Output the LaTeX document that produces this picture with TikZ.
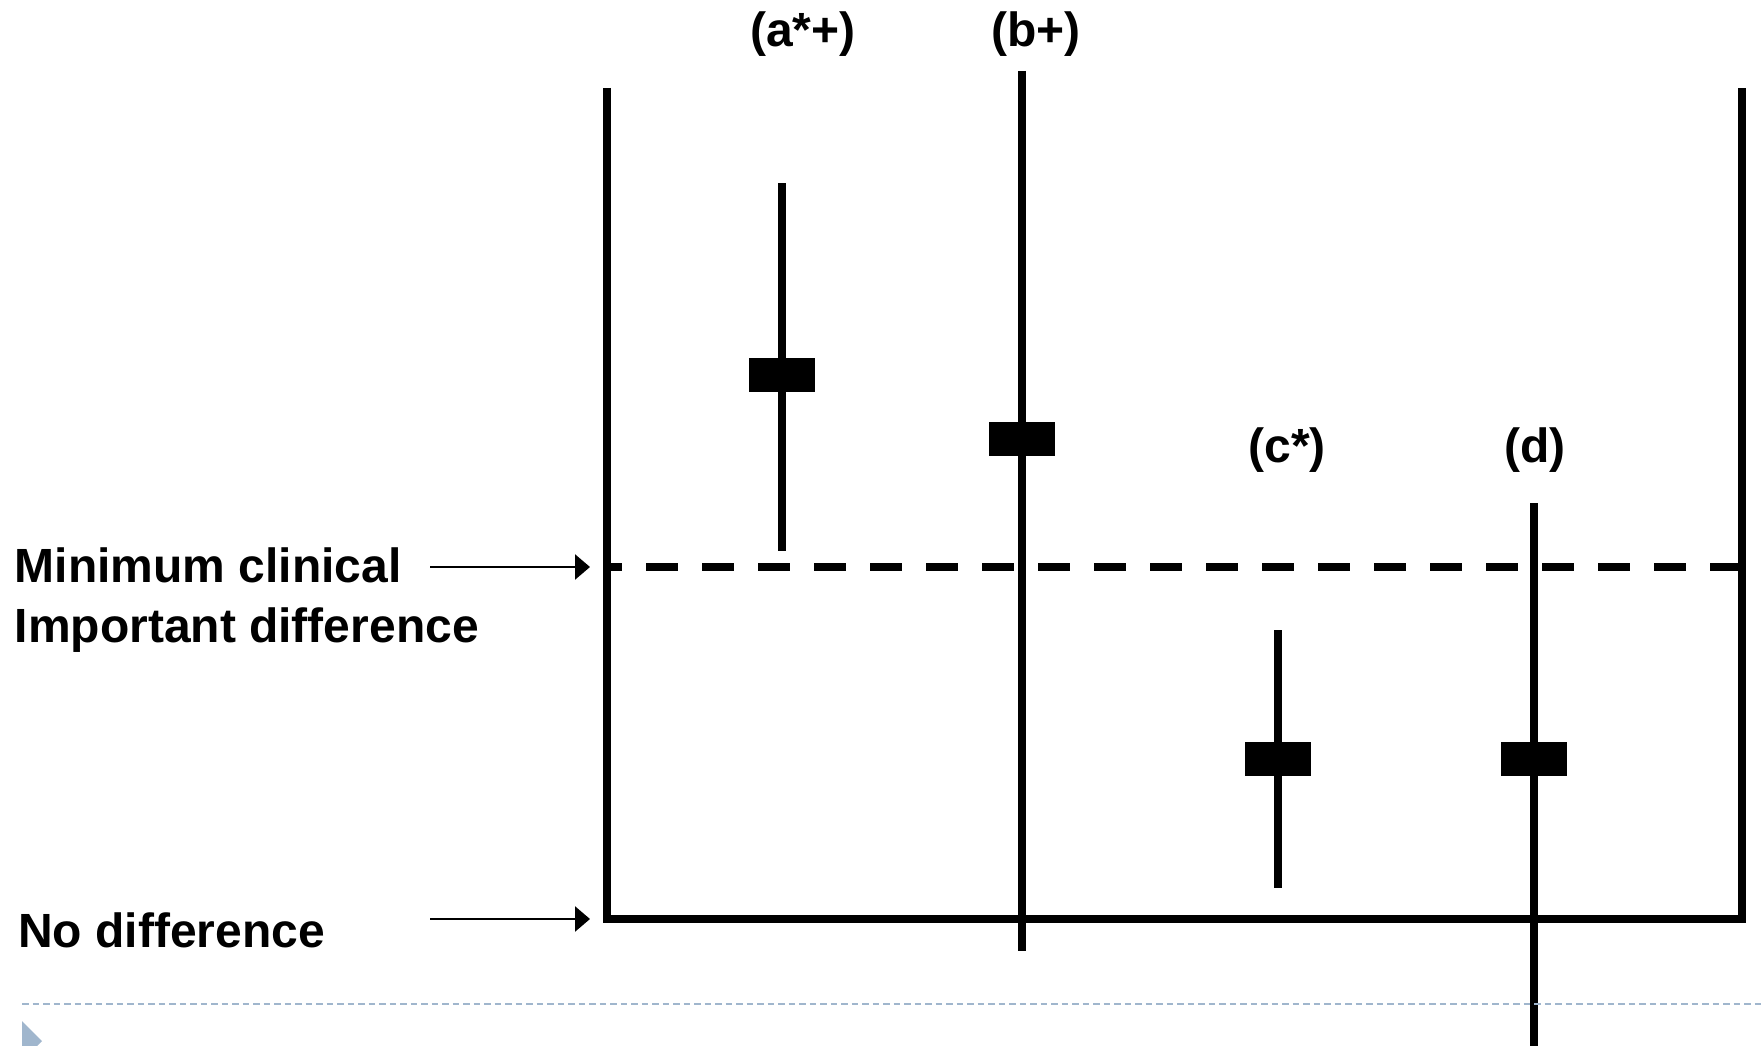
\documentclass[tikz,border=0pt]{standalone}
\usepackage{fontspec}
\setmainfont{Liberation Sans}
\usetikzlibrary{arrows.meta}
\definecolor{slideblue}{HTML}{A0B6CD}

\begin{document}
\begin{tikzpicture}[x=1pt,y=-1pt]

        \useasboundingbox (0,0) rectangle (1762,1046);

        % frame and the two levels
        \coordinate (tl) at (607,88);
        \coordinate (bl) at (607,919);
        \coordinate (br) at (1742,919);
        \coordinate (tr) at (1742,88);
        \coordinate (ml) at (607,567);
        \coordinate (mr) at (1742,567);

        \draw[line width=8pt] (tl) -- (bl) -- (br) -- (tr);
        \draw[line width=8pt, dash pattern=on 32pt off 24pt, dash phase=17pt] (ml) -- (mr);

        % whisker ends
        \coordinate (a1) at (782,183);
        \coordinate (a2) at (782,551);
        \coordinate (b1) at (1022,71);
        \coordinate (b2) at (1022,951);
        \coordinate (c1) at (1278,630);
        \coordinate (c2) at (1278,888);
        \coordinate (d1) at (1534,503);
        \coordinate (d2) at (1534,1050);

        \begin{scope}[every edge/.style={draw, line width=8pt}]
          \path (a1) edge (a2);
          \path (b1) edge (b2);
          \path (c1) edge (c2);
          \path (d1) edge (d2);
        \end{scope}

        \begin{scope}[every node/.style={fill, inner sep=0pt, minimum width=66pt, minimum height=34pt}]
          \node (ea) at (782,375) {};
          \node (eb) at (1022,439) {};
          \node (ec) at (1278,759) {};
          \node (ed) at (1534,759) {};
        \end{scope}

        \begin{scope}[every node/.style={inner sep=0pt, font=\bfseries\fontsize{48}{60}\selectfont}]
          \node[anchor=base] (la) at (803,47) {(a*+)};
          \node[anchor=base] (lb) at (1036,47) {(b+)};
          \node[anchor=base] (lc) at (1287,462) {(c*)};
          \node[anchor=base] (ld) at (1535,462) {(d)};
          \node[anchor=base west] (mcid1) at (14.5,582) {Minimum clinical};
          \node[anchor=base west] (mcid2) at (14.5,642) {Important difference};
          \node[anchor=base west] (nodiff) at (18,947) {No difference};
        \end{scope}

        % pointers to the levels
        \coordinate (mtail) at (430,567);
        \coordinate (mtip) at (590,567);
        \coordinate (ntail) at (430,919);
        \coordinate (ntip) at (590,919);

        \begin{scope}[every edge/.style={draw, line width=2.5pt, -{Triangle[length=15pt,width=25pt]}}]
          \path (mtail) edge (mtip);
          \path (ntail) edge (ntip);
        \end{scope}

        % slide footer
        \draw[slideblue, line width=2.2pt, dash pattern=on 6.5pt off 4pt] (22,1004) -- (1762,1004);
        \fill[slideblue] (22,1021) -- (42,1041) -- (22,1061) -- cycle;

      \end{tikzpicture}
\end{document}
